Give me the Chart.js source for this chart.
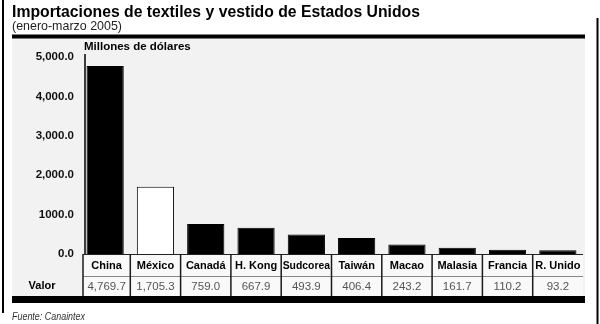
<!DOCTYPE html>
<html>
<head>
<meta charset="utf-8">
<script src="https://cdn.jsdelivr.net/npm/chart.js@4/dist/chart.umd.min.js"></script>
<style>
  html, body { margin: 0; padding: 0; background: #fff; }
  #wrap { width: 600px; height: 324px; position: relative; }
</style>
</head>
<body>
<div id="wrap"><canvas id="c" width="600" height="324"></canvas></div>
<script>
// Imports of textiles and apparel, January–March 2005 (millions of dollars)
const categories = ['China', 'México', 'Canadá', 'H. Kong', 'Sudcorea', 'Taiwán', 'Macao', 'Malasia', 'Francia', 'R. Unido'];
const values = [4769.7, 1705.3, 759.0, 667.9, 493.9, 406.4, 243.2, 161.7, 110.2, 93.2];
const yTickValues = [0, 1000, 2000, 3000, 4000, 5000];
const yTickLabels = ['0.0', '1000.0', '2,000.0', '3,000.0', '4,000.0', '5,000.0'];

const titleText = 'Importaciones de textiles y vestido de Estados Unidos';
const subtitleText = '(enero-marzo 2005)';
const unitText = 'Millones de dólares';
const rowLabel = 'Valor';
const sourceText = 'Fuente: Canaintex';

const FONT = '"Liberation Sans", Arial, Helvetica, sans-serif';

const fmt = v => v.toLocaleString('en-US', { minimumFractionDigits: 1, maximumFractionDigits: 1 });

// Mexico highlighted with an open bar, the rest solid black
const barFill = categories.map(c => c === 'México' ? '#ffffff' : '#000000');

function fitText(ctx, text, x, y, maxW) {
  const w = ctx.measureText(text).width;
  if (w > maxW) {
    ctx.save();
    ctx.translate(x, y);
    ctx.scale(maxW / w, 1);
    ctx.fillText(text, 0, 0);
    ctx.restore();
  } else {
    ctx.fillText(text, x, y);
  }
}

const framePlugin = {
  id: 'frame',
  beforeDraw(chart) {
    const ctx = chart.ctx;
    const a = chart.chartArea;
    ctx.save();
    ctx.fillStyle = '#ffffff';
    ctx.fillRect(0, 0, chart.width, chart.height);
    // panel
    ctx.fillStyle = '#f2f2f2';
    ctx.fillRect(12, 38, 573, a.bottom + 42 - 38);
    // top rule
    ctx.fillStyle = '#000';
    ctx.fillRect(12, 34.5, 573, 4);
    // page side rules
    ctx.fillRect(2, 0, 2, 313);
    ctx.fillRect(596.5, 18, 2, 306);
    // title block
    ctx.fillStyle = '#000';
    ctx.textBaseline = 'alphabetic';
    ctx.textAlign = 'left';
    ctx.font = 'bold 17px ' + FONT;
    fitText(ctx, titleText, 12, 17, 408);
    ctx.fillStyle = '#222';
    ctx.font = '13px ' + FONT;
    fitText(ctx, subtitleText, 12, 30, 110);
    // unit label
    ctx.fillStyle = '#000';
    ctx.font = 'bold 11.5px ' + FONT;
    fitText(ctx, unitText, a.left + 4, 50, 108);
    // source
    ctx.fillStyle = '#333';
    ctx.font = 'italic 10px ' + FONT;
    fitText(ctx, sourceText, 12, 320, 73);
    ctx.restore();
  },
  afterDatasetsDraw(chart) {
    const ctx = chart.ctx;
    const a = chart.chartArea;
    const xs = chart.scales.x;
    ctx.save();
    // value axis line
    ctx.strokeStyle = '#000';
    ctx.lineWidth = 1.5;
    ctx.beginPath();
    ctx.moveTo(a.left + 5, a.top - 3);
    ctx.lineTo(a.left + 5, a.bottom);
    ctx.stroke();

    // data table under the bars
    const top = a.bottom;
    const split = a.bottom + 22;
    const bottom = a.bottom + 42;
    const left = a.left + 3;
    const right = a.right;
    ctx.fillStyle = '#f9f9f9';
    ctx.fillRect(left, top, right - left, bottom - top);
    ctx.strokeStyle = '#222';
    ctx.lineWidth = 1;
    ctx.beginPath();
    ctx.moveTo(left, top + 0.5);
    ctx.lineTo(right, top + 0.5);
    ctx.stroke();
    ctx.strokeStyle = '#888';
    ctx.beginPath();
    ctx.moveTo(left, split + 0.5);
    ctx.lineTo(right, split + 0.5);
    ctx.stroke();

    const centers = categories.map((_, i) => xs.getPixelForValue(i));
    const bounds = [left];
    for (let i = 1; i < centers.length; i++) bounds.push((centers[i - 1] + centers[i]) / 2);
    ctx.strokeStyle = '#1a1a1a';
    ctx.lineWidth = 1.5;
    bounds.forEach(b => {
      ctx.beginPath();
      ctx.moveTo(b, top);
      ctx.lineTo(b, bottom);
      ctx.stroke();
    });

    ctx.textAlign = 'center';
    ctx.textBaseline = 'middle';
    categories.forEach((c, i) => {
      const cellL = bounds[i];
      const cellR = i + 1 < bounds.length ? bounds[i + 1] : right;
      const cx = (cellL + cellR) / 2;
      ctx.fillStyle = '#000';
      ctx.font = 'bold 11px ' + FONT;
      const w = ctx.measureText(c).width;
      const maxW = cellR - cellL - 3;
      if (w > maxW) {
        ctx.save();
        ctx.translate(cx, (top + split) / 2 + 1);
        ctx.scale(maxW / w, 1);
        ctx.fillText(c, 0, 0);
        ctx.restore();
      } else {
        ctx.fillText(c, cx, (top + split) / 2 + 1);
      }
      ctx.fillStyle = '#555';
      ctx.font = '11.5px ' + FONT;
      ctx.fillText(fmt(values[i]), cx, (split + bottom) / 2 + 1);
    });
    ctx.fillStyle = '#000';
    ctx.font = 'bold 11px ' + FONT;
    ctx.fillText(rowLabel, 42, (split + bottom) / 2);

    // bottom rule
    ctx.fillStyle = '#000';
    ctx.fillRect(12, bottom, 573, 7);
    ctx.restore();
  }
};

new Chart(document.getElementById('c'), {
  type: 'bar',
  data: {
    labels: categories,
    datasets: [{
      data: values,
      backgroundColor: barFill,
      borderColor: '#000',
      borderWidth: 1,
      borderSkipped: 'bottom',
      barPercentage: 0.74,
      categoryPercentage: 1.0
    }]
  },
  options: {
    responsive: false,
    animation: false,
    devicePixelRatio: 1,
    layout: { padding: { top: 57, right: 17, bottom: 70, left: 0 } },
    plugins: { legend: { display: false }, tooltip: { enabled: false } },
    scales: {
      x: { display: false },
      y: {
        min: 0,
        max: 5000,
        afterFit(scale) { scale.width = 80; },
        afterBuildTicks(scale) { scale.ticks = yTickValues.map(v => ({ value: v })); },
        grid: { display: false, drawTicks: false },
        border: { display: false },
        ticks: {
          padding: 6,
          color: '#111',
          font: { family: FONT, size: 11.5, weight: 'bold' },
          callback: v => yTickLabels[yTickValues.indexOf(v)]
        }
      }
    }
  },
  plugins: [framePlugin]
});
</script>
</body>
</html>
